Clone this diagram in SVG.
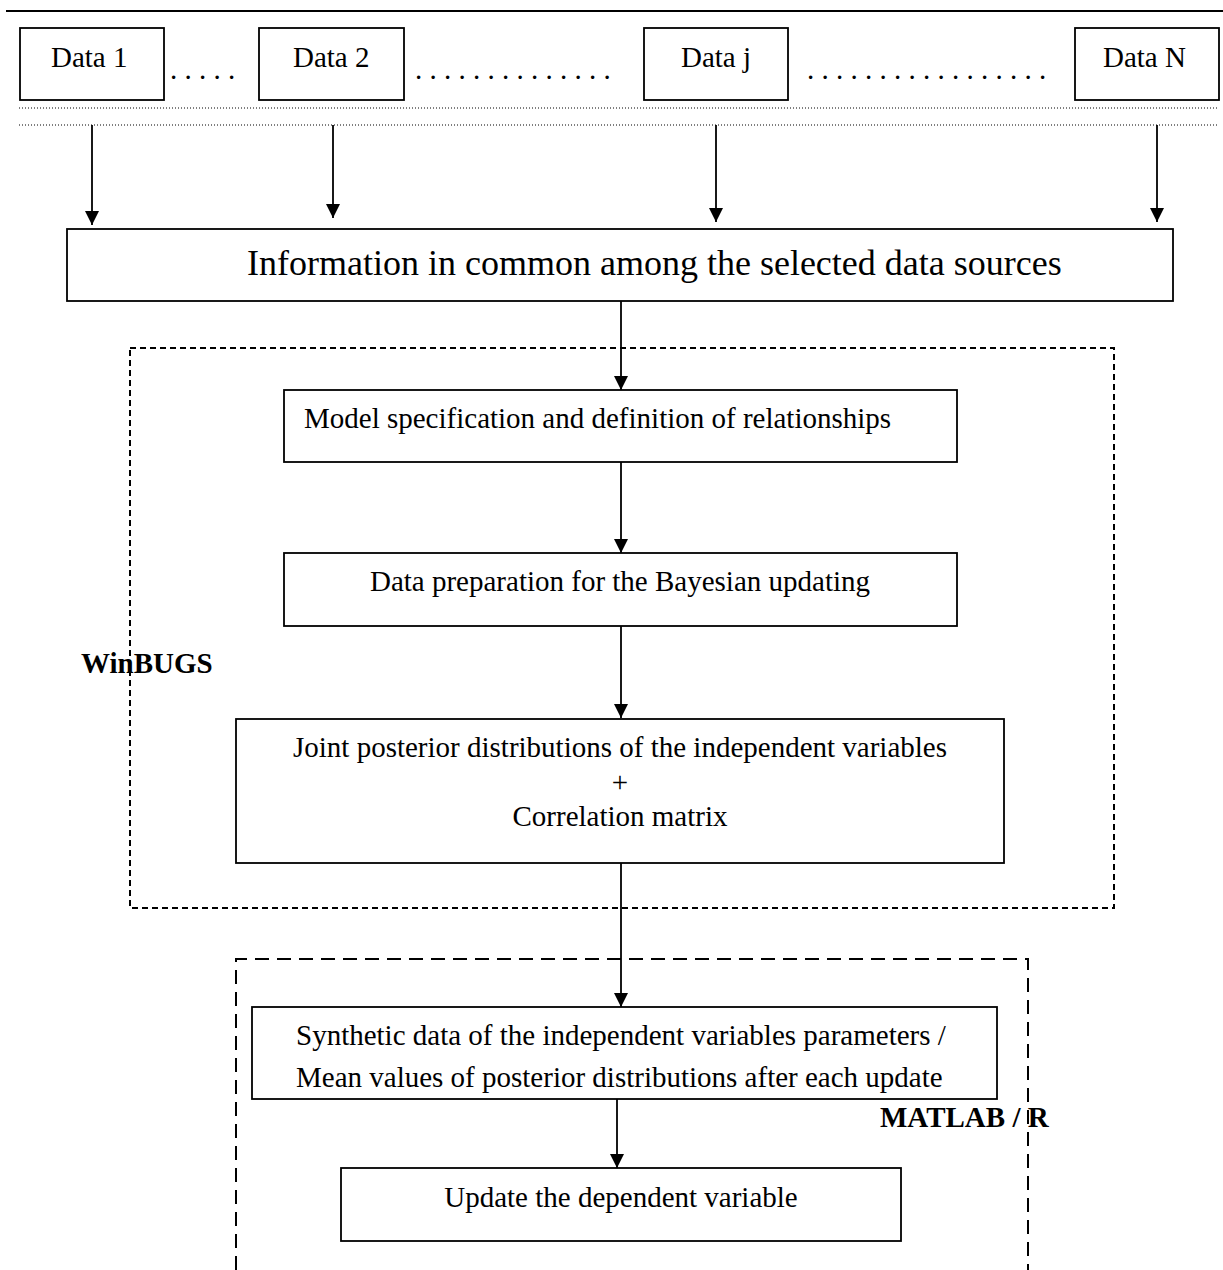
<svg xmlns="http://www.w3.org/2000/svg" width="1223" height="1270" viewBox="0 0 1223 1270">
<style>
.box{fill:#fff;stroke:#000;stroke-width:1.8}
.t{font-family:"Liberation Serif","Times New Roman",serif;font-size:29px;fill:#000}
.big{font-size:36px}
.b{font-weight:bold}
.dots{font-family:"Liberation Serif","Times New Roman",serif;font-size:29px;fill:#000}
.conn{stroke:#000;stroke-width:1.8;fill:none;marker-end:url(#ah)}
.dotline{stroke:#000;stroke-width:1;stroke-dasharray:1 2;fill:none}
</style>
<defs>
<marker id="ah" markerUnits="userSpaceOnUse" viewBox="0 0 14 14" markerWidth="14" markerHeight="14" refX="14" refY="7" orient="auto">
<path d="M0,0 L14,7 L0,14 z" fill="#000"/>
</marker>
</defs>
<rect width="1223" height="1270" fill="#fff"/>
<line x1="6" y1="11" x2="1223" y2="11" stroke="#000" stroke-width="2"/>
<line class="dotline" x1="19" y1="108" x2="1218" y2="108"/>
<line class="dotline" x1="19" y1="125" x2="1218" y2="125"/>
<text class="dots" x="170" y="79">. . . . .</text>
<text class="dots" x="415" y="79">. . . . . . . . . . . . . .</text>
<text class="dots" x="807" y="79">. . . . . . . . . . . . . . . . .</text>
<g id="winbugs-group">
<rect x="130" y="348" width="984" height="560" fill="none" stroke="#000" stroke-width="2" stroke-dasharray="6 4"/>
<text class="t b" x="81" y="673">WinBUGS</text>
</g>
<g id="matlab-group">
<path d="M236,1270 L236,959 L1028,959 L1028,1270" fill="none" stroke="#000" stroke-width="2" stroke-dasharray="14 8"/>
<text class="t b" x="880" y="1127">MATLAB / R</text>
</g>
<g id="data1"><rect class="box" x="20" y="28" width="144" height="72"/><text class="t" x="51" y="67">Data 1</text></g>
<g id="data2"><rect class="box" x="259" y="28" width="145" height="72"/><text class="t" x="293" y="67">Data 2</text></g>
<g id="dataj"><rect class="box" x="644" y="28" width="144" height="72"/><text class="t" x="681" y="67">Data j</text></g>
<g id="dataN"><rect class="box" x="1075" y="28" width="144" height="72"/><text class="t" x="1103" y="67">Data N</text></g>
<g id="info"><rect class="box" x="67" y="229" width="1106" height="72"/><text class="t big" x="247" y="275">Information in common among the selected data sources</text></g>
<g id="model"><rect class="box" x="284" y="390" width="673" height="72"/><text class="t" x="304" y="428">Model specification and definition of relationships</text></g>
<g id="prep"><rect class="box" x="284" y="553" width="673" height="73"/><text class="t" x="620" y="591" text-anchor="middle">Data preparation for the Bayesian updating</text></g>
<g id="joint"><rect class="box" x="236" y="719" width="768" height="144"/>
<text class="t" x="620" y="757" text-anchor="middle">Joint posterior distributions of the independent variables</text>
<text class="t" x="620" y="792" text-anchor="middle">+</text>
<text class="t" x="620" y="826" text-anchor="middle">Correlation matrix</text></g>
<g id="synthetic"><rect class="box" x="252" y="1007" width="745" height="92"/>
<text class="t" x="296" y="1045">Synthetic data of the independent variables parameters /</text>
<text class="t" x="296" y="1087">Mean values of posterior distributions after each update</text></g>
<g id="update"><rect class="box" x="341" y="1168" width="560" height="73"/><text class="t" x="621" y="1207" text-anchor="middle">Update the dependent variable</text></g>
<g id="connectors">
<line class="conn" x1="92" y1="125" x2="92" y2="225"/>
<line class="conn" x1="333" y1="125" x2="333" y2="218"/>
<line class="conn" x1="716" y1="125" x2="716" y2="222"/>
<line class="conn" x1="1157" y1="125" x2="1157" y2="222"/>
<line class="conn" x1="621" y1="301" x2="621" y2="390"/>
<line class="conn" x1="621" y1="462" x2="621" y2="553"/>
<line class="conn" x1="621" y1="626" x2="621" y2="718"/>
<line class="conn" x1="621" y1="863" x2="621" y2="1007"/>
<line class="conn" x1="617" y1="1099" x2="617" y2="1168"/>
</g>
</svg>
